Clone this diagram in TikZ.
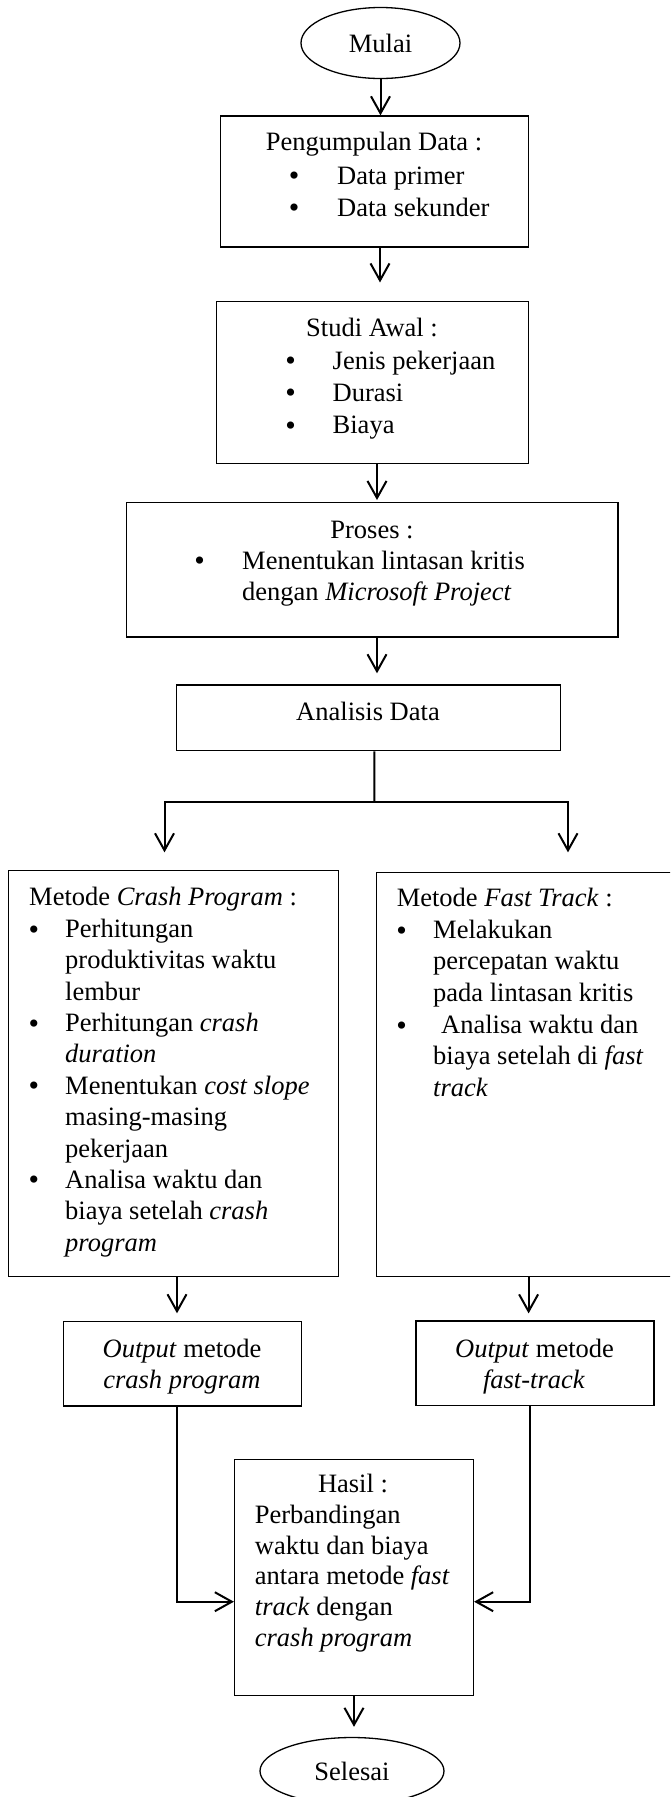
\documentclass[tikz,border=0pt]{standalone}
\usepackage{fontspec}
\setmainfont{Liberation Serif}
\usetikzlibrary{arrows.meta,shapes.geometric,calc}
\begin{document}
\begin{tikzpicture}[x=1pt,y=-1pt,
  box/.style={draw,line width=1.3pt,inner sep=0pt,rectangle},
  term/.style={draw,line width=1.3pt,ellipse,inner sep=0pt,font=\fontsize{26.5pt}{31.3pt}\selectfont},
  arr/.style={line width=2pt,-{Straight Barb[length=17pt,width=19pt,line width=2pt]}},
  ln/.style={line width=2pt},
  txt/.style={inner sep=0pt,font=\fontsize{26.5pt}{31.3pt}\selectfont},
  tl/.style={txt,anchor=base west},
  tc/.style={txt,anchor=base},
  bul/.style={inner sep=0pt,anchor=base,yshift=-1.5pt,font=\fontsize{30pt}{30pt}\selectfont},
]
\useasboundingbox (0,0) rectangle (670,1797);
\clip (0,0) rectangle (670,1797);

% shapes
\node[term,minimum width=159pt,minimum height=71pt] (mulai) at (380.5,43) {Mulai};
\node[box,minimum width=308pt,minimum height=131pt] (b1) at (374.5,181.5) {};
\node[box,minimum width=312pt,minimum height=162pt] (b2) at (372.6,382.8) {};
\node[box,minimum width=491.5pt,minimum height=134.3pt] (b3) at (372.2,569.8) {};
\node[box,minimum width=384pt,minimum height=65.7pt] (b4) at (368.6,717.8) {};
\node[box,minimum width=330pt,minimum height=406pt] (b5) at (173.5,1073.7) {};
\node[box,minimum width=295.5pt,minimum height=404pt] (b6) at (524.25,1074.7) {};
\node[box,minimum width=237.6pt,minimum height=84.3pt] (b7) at (182.5,1363.8) {};
\node[box,minimum width=238pt,minimum height=84.7pt] (b8) at (535,1363.4) {};
\node[box,minimum width=238.9pt,minimum height=236.4pt] (b9) at (354,1577.5) {};
\node[term,minimum width=184pt,minimum height=67pt] (selesai) at (352,1771) {Selesai};

% texts box 1
\node[tc] (t1a) at (374,150) {Pengumpulan Data :};
\node[bul] (t1b) at (294,184) {•};
\node[tl] (t1c) at (337,184) {Data primer};
\node[bul] (t1d) at (294,216) {•};
\node[tl] (t1e) at (337,216) {Data sekunder};

% box 2
\node[tc] (t2a) at (372,336) {Studi Awal :};
\node[bul] (t2b) at (290.6,369) {•};
\node[tl] (t2c) at (332.5,369) {Jenis pekerjaan};
\node[bul] (t2d) at (290.6,401) {•};
\node[tl] (t2e) at (332.5,401) {Durasi};
\node[bul] (t2f) at (290.6,433.5) {•};
\node[tl] (t2g) at (332.5,433.5) {Biaya};

% box 3
\node[tc] (t3a) at (372,538) {Proses :};
\node[bul] (t3b) at (199.6,569) {•};
\node[tl] (t3c) at (242,569) {Menentukan lintasan kritis};
\node[tl] (t3d) at (242,600.5) {dengan \textit{Microsoft Project}};

% box 4
\node[tc] (t4a) at (368,720.7) {Analisis Data};

% box 5
\node[tl] (t5a) at (29,905) {Metode \textit{Crash Program} :};
\node[bul] (t5b1) at (34,937.5) {•};
\node[tl] (t5c) at (65,937.5) {Perhitungan};
\node[tl] (t5d) at (65,968.9) {produktivitas waktu};
\node[tl] (t5e) at (65,1000.2) {lembur};
\node[bul] (t5b2) at (34,1031.6) {•};
\node[tl] (t5f) at (65,1031.6) {Perhitungan \textit{crash}};
\node[tl] (t5g) at (65,1062.9) {\textit{duration}};
\node[bul] (t5b3) at (34,1094.3) {•};
\node[tl] (t5h) at (65,1094.3) {Menentukan \textit{cost slope}};
\node[tl] (t5i) at (65,1125.6) {masing-masing};
\node[tl] (t5j) at (65,1157) {pekerjaan};
\node[bul] (t5b4) at (34,1188.3) {•};
\node[tl] (t5k) at (65,1188.3) {Analisa waktu dan};
\node[tl] (t5l) at (65,1219.7) {biaya setelah \textit{crash}};
\node[tl] (t5m) at (65,1251) {\textit{program}};

% box 6
\node[tl] (t6a) at (396.6,906) {Metode \textit{Fast Track} :};
\node[bul] (t6b1) at (401.7,938.5) {•};
\node[tl] (t6c) at (433,938.5) {Melakukan};
\node[tl] (t6d) at (433,969.8) {percepatan waktu};
\node[tl] (t6e) at (433,1001.1) {pada lintasan kritis};
\node[bul] (t6b2) at (401.7,1033.5) {•};
\node[tl] (t6f) at (441,1033.5) {Analisa waktu dan};
\node[tl] (t6g) at (433,1064.8) {biaya setelah di \textit{fast}};
\node[tl] (t6h) at (433,1096) {\textit{track}};

% box 7, 8
\node[tc] (t7a) at (182,1357) {\textit{Output} metode};
\node[tc] (t7b) at (182,1388.3) {\textit{crash program}};
\node[tc] (t8a) at (534.6,1357) {\textit{Output} metode};
\node[tc] (t8b) at (534,1388.3) {\textit{fast-track}};

% box 9
\node[tc] (t9a) at (353,1492.5) {Hasil :};
\node[tl] (t9b) at (254.7,1523.5) {Perbandingan};
\node[tl] (t9c) at (254.7,1554) {waktu dan biaya};
\node[tl] (t9d) at (254.7,1584.5) {antara metode \textit{fast}};
\node[tl] (t9e) at (254.7,1615) {\textit{track} dengan};
\node[tl] (t9f) at (254.7,1646) {\textit{crash program}};

% connectors
\draw[arr] (mulai.south) -- (mulai.south |- b1.north);
\coordinate (a1) at ($(b1.south)+(5.5,0)$);
\draw[arr,shorten >=18.7pt] (a1) -- (a1 |- b2.north);
\coordinate (a2) at ($(b2.south)+(4.4,0)$);
\draw[arr,shorten >=2pt] (a2) -- (a2 |- b3.north);
\coordinate (a3) at ($(b3.south)+(4.8,0)$);
\draw[arr,shorten >=11pt] (a3) -- (a3 |- b4.north);
\coordinate (a4) at ($(b4.south)+(5.8,0)$);
\coordinate (jm) at (374.4,801.5);
\coordinate (jl) at (164.5,801.5);
\coordinate (jr) at (568,801.5);
\draw[ln] (a4) -- (jm);
\draw[arr,shorten >=17.7pt] (jr) -- (jl) -- (jl |- b5.north);
\draw[arr,shorten >=19.7pt] (jl) -- (jr) -- (jr |- b6.north);
\coordinate (a5) at ($(b5.south)+(3.5,0)$);
\draw[arr,shorten >=7.7pt] (a5) -- (a5 |- b7.north);
\coordinate (a6) at ($(b6.south)+(4.35,0)$);
\draw[arr,shorten >=7pt] (a6) -- (a6 |- b8.north);
\coordinate (c7) at ($(b7.south)+(-5.5,0)$);
\coordinate (k7) at (177,1601.7);
\draw[arr] (c7) -- (k7) -- (k7 -| b9.west);
\coordinate (c8) at ($(b8.south)+(-5.5,0)$);
\coordinate (k8) at (529.5,1601.7);
\draw[arr] (c8) -- (k8) -- (k8 -| b9.east);
\draw[arr,shorten >=10pt] (b9.south) -- (b9.south |- selesai.north);
\end{tikzpicture}
\end{document}
